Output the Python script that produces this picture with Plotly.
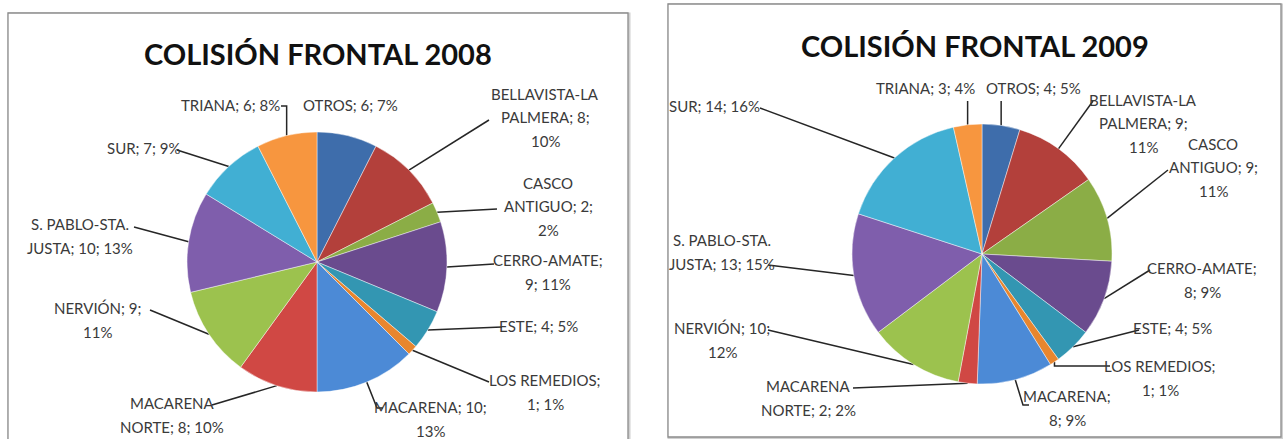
import math
import plotly.graph_objects as go

# ---- data -------------------------------------------------------------
categories = ["OTROS", "BELLAVISTA-LA PALMERA", "CASCO ANTIGUO", "CERRO-AMATE", "ESTE",
              "LOS REMEDIOS", "MACARENA", "MACARENA NORTE", "NERVIÓN",
              "S. PABLO-STA. JUSTA", "SUR", "TRIANA"]
values_2008 = [6, 8, 2, 9, 4, 1, 10, 8, 9, 10, 7, 6]
values_2009 = [4, 9, 9, 8, 4, 1, 8, 2, 10, 13, 14, 3]
pct_2008 = ["7%", "10%", "2%", "11%", "5%", "1%", "13%", "10%", "11%", "13%", "9%", "8%"]
pct_2009 = ["5%", "11%", "11%", "9%", "5%", "1%", "9%", "2%", "12%", "15%", "16%", "4%"]
titles = ["COLISIÓN FRONTAL 2008", "COLISIÓN FRONTAL 2009"]

slice_colors = ["#3E6DAB", "#B3403B", "#8BAD46", "#6A4B8E", "#3396B2", "#E8862E",
                "#4C8AD6", "#D04844", "#9CC24E", "#7F5EAC", "#41AFD3", "#F7963F"]

# ---- page geometry (pixels) -------------------------------------------
W, H = 1283, 439
RADIUS = 130
LABEL_FONT = "Lato, Roboto, sans-serif"
LABEL_SIZE = 15
LINE_GAP = 23.5
TEXT_COLOR = "#3a3a3a"

# label placement per category: text centre, line-break positions and bend points
layout_2008 = {
    "box": (8, 13, 628, 448),
    "center": (317, 262),
    "title": (318, 53),
    "labels": {
        "OTROS": dict(xy=(350, 105), br=[], path=None),
        "BELLAVISTA-LA PALMERA": dict(xy=(545, 117), br=[0, 2], path=[(489, 120)]),
        "CASCO ANTIGUO": dict(xy=(548, 206), br=[0, 2], path=[(497, 209)]),
        "CERRO-AMATE": dict(xy=(548, 272), br=[0], path=[(494, 264)]),
        "ESTE": dict(xy=(538, 326), br=[], path=[(502, 327)]),
        "LOS REMEDIOS": dict(xy=(545, 392), br=[1], path=[(489, 382)]),
        "MACARENA": dict(xy=(430, 419), br=[1], path=[(377, 408), (383, 408)]),
        "MACARENA NORTE": dict(xy=(172, 415), br=[0], path=[(212, 405)]),
        "NERVIÓN": dict(xy=(97, 320), br=[1], path=[(150, 310)]),
        "S. PABLO-STA. JUSTA": dict(xy=(80, 236), br=[1], path=[(134, 227)]),
        "SUR": dict(xy=(144, 148), br=[], path=[(177, 150)]),
        "TRIANA": dict(xy=(230, 105), br=[], path=[(None, 106), (281, 106)]),
    },
}

layout_2009 = {
    "box": (668, 4, 1281, 437),
    "center": (982, 254),
    "title": (975, 45),
    "labels": {
        "OTROS": dict(xy=(1033, 88), br=[], path=[(None, 101)]),
        "BELLAVISTA-LA PALMERA": dict(xy=(1143, 123), br=[0, 2], path=[(1093, 101)]),
        "CASCO ANTIGUO": dict(xy=(1213, 167), br=[0, 2], path=[(1168, 170)]),
        "CERRO-AMATE": dict(xy=(1202, 280), br=[0], path=[(1150, 270)]),
        "ESTE": dict(xy=(1172, 328), br=[], path=[(1139, 330)]),
        "LOS REMEDIOS": dict(xy=(1160, 378), br=[1], path=[(None, 366), (1110, 366)]),
        "MACARENA": dict(xy=(1067, 408), br=[0], path=[(1023, 405), (1029, 405)]),
        "MACARENA NORTE": dict(xy=(808, 398), br=[0], path=[(853, 388)]),
        "NERVIÓN": dict(xy=(722, 340), br=[1], path=[(768, 330)]),
        "S. PABLO-STA. JUSTA": dict(xy=(722, 252), br=[1], path=[(768, 265)]),
        "SUR": dict(xy=(714, 106), br=[], path=[(760, 108)]),
        "TRIANA": dict(xy=(925, 88), br=[], path=[(None, 101)]),
    },
}


def label_lines(cat, val, pct, breaks):
    tokens = f"{cat}; {val}; {pct}".split(" ")
    lines = [tokens[0]]
    for i, tok in enumerate(tokens[1:]):
        if i in breaks:
            lines.append(tok)
        else:
            lines[-1] += " " + tok
    return lines


fig = go.Figure()
annotations = []
shapes = []

for values, pcts, title, geo in [(values_2008, pct_2008, titles[0], layout_2008),
                                 (values_2009, pct_2009, titles[1], layout_2009)]:
    cx, cy = geo["center"]
    bx0, by0, bx1, by1 = geo["box"]

    # chart frame with a soft shadow
    shapes.append(dict(type="rect", xref="x", yref="y", x0=bx0 + 1, y0=by0 + 1, x1=bx1 + 1,
                       y1=by1 + 1, line=dict(color="#d0d0d0", width=3), layer="below"))
    shapes.append(dict(type="rect", xref="x", yref="y", x0=bx0, y0=by0, x1=bx1, y1=by1,
                       line=dict(color="#8c8c8c", width=1.3), fillcolor="white", layer="below"))

    fig.add_trace(go.Pie(
        labels=categories, values=values, sort=False, direction="clockwise", rotation=0,
        marker=dict(colors=slice_colors, line=dict(color="rgba(255,255,255,0.55)", width=0.8)),
        textinfo="none", hoverinfo="label+value+percent", showlegend=False,
        domain=dict(x=[(cx - RADIUS) / W, (cx + RADIUS) / W],
                    y=[1 - (cy + RADIUS) / H, 1 - (cy - RADIUS) / H]),
    ))

    annotations.append(dict(x=geo["title"][0], y=geo["title"][1], xref="x", yref="y",
                            text=f"<b>{title}</b>", showarrow=False,
                            font=dict(family=LABEL_FONT, size=29, color="#111111")))

    total = sum(values)
    cum = 0
    lx, ly = [], []
    for cat, val, pct in zip(categories, values, pcts):
        theta = 2 * math.pi * (cum + val / 2) / total
        cum += val
        ex, ey = cx + RADIUS * math.sin(theta), cy - RADIUS * math.cos(theta)
        spec = geo["labels"][cat]
        tx, ty = spec["xy"]
        lines = label_lines(cat, val, pct, spec["br"])
        for k, line in enumerate(lines):
            annotations.append(dict(
                x=tx, y=ty + (k - (len(lines) - 1) / 2) * LINE_GAP, xref="x", yref="y",
                showarrow=False, text=line,
                font=dict(family=LABEL_FONT, size=LABEL_SIZE, color=TEXT_COLOR)))
        if spec["path"]:
            lx.append(ex)
            ly.append(ey)
            for px, py in spec["path"]:
                lx.append(ex if px is None else px)
                ly.append(py)
            lx.append(None)
            ly.append(None)
    fig.add_trace(go.Scatter(x=lx, y=ly, mode="lines", hoverinfo="skip", showlegend=False,
                             line=dict(color="#262626", width=1.5)))

fig.update_layout(
    width=W, height=H, margin=dict(l=0, r=0, t=0, b=0),
    paper_bgcolor="white", plot_bgcolor="rgba(0,0,0,0)",
    xaxis=dict(range=[0, W], visible=False, fixedrange=True, domain=[0, 1]),
    yaxis=dict(range=[H, 0], visible=False, fixedrange=True, domain=[0, 1]),
    annotations=annotations, shapes=shapes,
)

fig.write_html("out.html")
